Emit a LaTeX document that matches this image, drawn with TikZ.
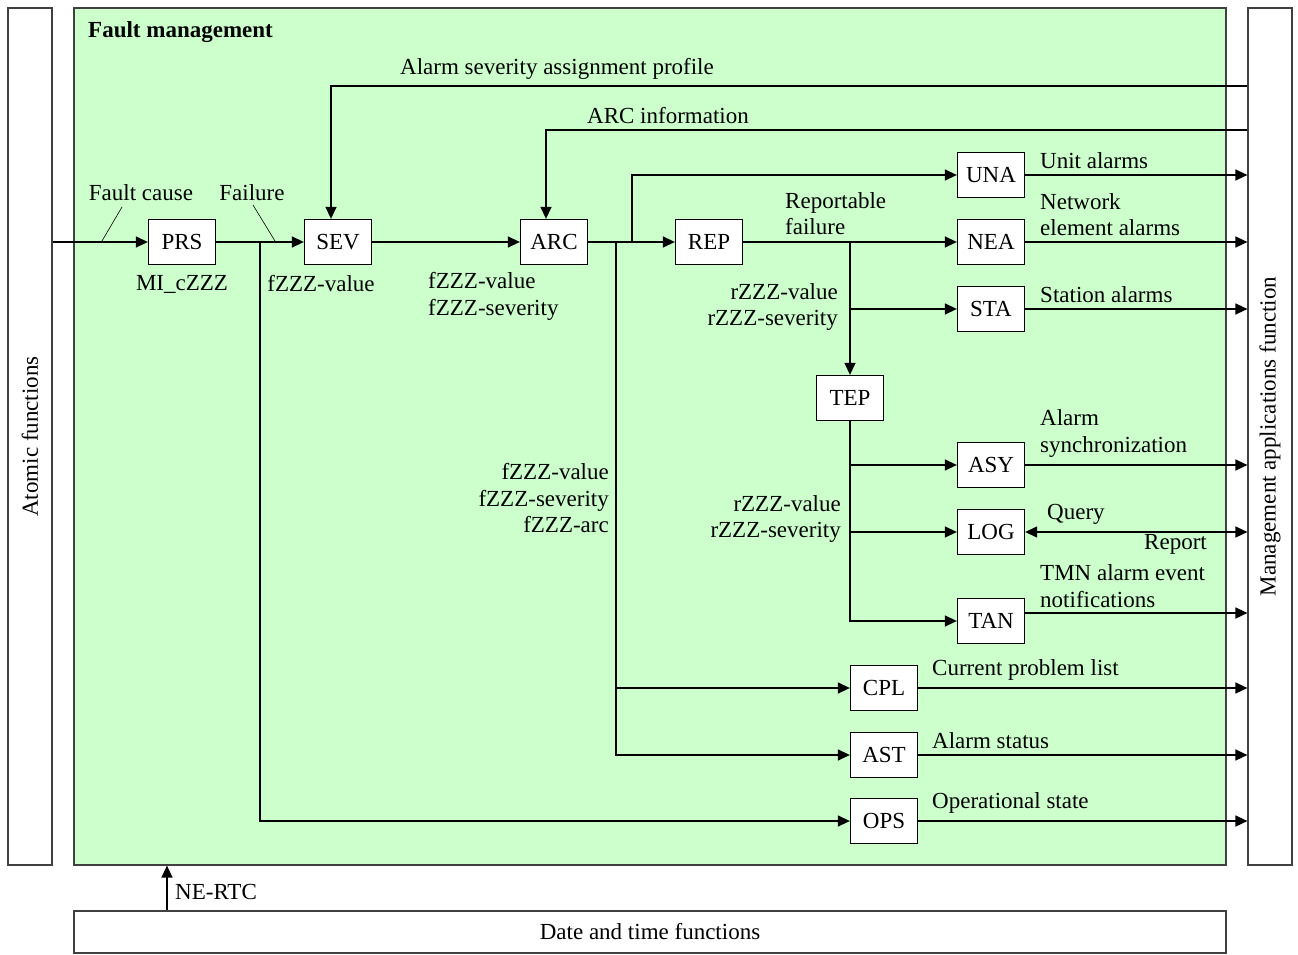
\documentclass[tikz,border=0pt]{standalone}
\usepackage{fontspec}
\setmainfont{Liberation Serif}
\usetikzlibrary{arrows.meta}
\definecolor{fmgreen}{HTML}{CCFFCC}
\definecolor{framegray}{HTML}{404040}
\tikzset{
  panel/.style={draw=framegray, line width=1.2pt, inner sep=0pt},
  fnbox/.style={draw, fill=white, line width=1.3pt, minimum width=67pt, minimum height=45pt, inner sep=0pt},
  lbl/.style={inner sep=0pt},
  arr/.style={line width=1.4pt, -{Triangle[length=12pt,width=11pt]}},
  arrboth/.style={line width=1.4pt, {Triangle[length=12pt,width=11pt]}-{Triangle[length=12pt,width=11pt]}},
  wire/.style={line width=1.4pt}
}
\begin{document}
\begin{tikzpicture}[x=1pt, y=-1pt, font=\fontsize{23}{26.5}\selectfont]
        \useasboundingbox[fill=white] (0,0) rectangle (1298,955);

        % frames
        \node[panel, minimum width=44pt, minimum height=857pt] (atomic) at (30,436.5) {};
        \node[rotate=90] at (atomic) {Atomic functions};
        \node[panel, fill=fmgreen, minimum width=1152pt, minimum height=857pt] (fm) at (650,436.5) {};
        \node[lbl, anchor=west, font=\fontsize{23}{26.5}\selectfont\bfseries] at (88,32) {Fault management};
        \node[panel, minimum width=44pt, minimum height=857pt] (mgmt) at (1270,436.5) {};
        \node[rotate=90] at (mgmt) {Management applications function};
        \node[panel, minimum width=1152pt, minimum height=42pt] (dtf) at (650,932) {Date and time functions};

        % function blocks
        \node[fnbox] (prs) at (182,242) {PRS};
        \node[fnbox] (sev) at (338,242) {SEV};
        \node[fnbox] (arc) at (554,242) {ARC};
        \node[fnbox] (rep) at (709,242) {REP};
        \node[fnbox] (una) at (991,175) {UNA};
        \node[fnbox] (nea) at (991,242) {NEA};
        \node[fnbox] (sta) at (991,309) {STA};
        \node[fnbox] (tep) at (850,398) {TEP};
        \node[fnbox] (asy) at (991,465) {ASY};
        \node[fnbox] (log) at (991,532) {LOG};
        \node[fnbox] (tan) at (991,621) {TAN};
        \node[fnbox] (cpl) at (884,688) {CPL};
        \node[fnbox] (ast) at (884,755) {AST};
        \node[fnbox] (ops) at (884,821) {OPS};

        % branch points
        \coordinate (sevin) at (331,86);
        \coordinate (arcin) at (546,130);
        \coordinate (split1) at (260,242);
        \coordinate (split2) at (632,242);
        \coordinate (split3) at (616,242);
        \coordinate (split4) at (850,242);
        \coordinate (tanout) at (1025,613);
        \coordinate (rtc) at (167,0);

        % main chain
        \draw[arr] (atomic.east |- prs) -- (prs);
        \draw[arr] (prs) -- (sev);
        \draw[arr] (sev) -- (arc);
        \draw[arr] (arc) -- (rep);
        \draw[arr] (rep) -- (nea);
        \draw[arr] (mgmt.west |- sevin) -| (sevin |- sev.north);
        \draw[arr] (mgmt.west |- arcin) -| (arcin |- arc.north);

        % branches
        \draw[arr] (split1) |- (ops);
        \draw[arr] (split2) |- (una);
        \draw[arr] (split3) |- (ast);
        \draw[arr] (split3 |- cpl) -- (cpl);
        \draw[arr] (split4) -- (tep);
        \draw[arr] (split4 |- sta) -- (sta);
        \draw[arr] (tep) |- (tan);
        \draw[arr] (tep.south |- asy) -- (asy);
        \draw[arr] (tep.south |- log) -- (log);

        % outputs
        \foreach \n in {una,nea,sta,asy,cpl,ast,ops}
            \draw[arr] (\n) -- (mgmt.west |- \n);
        \draw[arrboth] (log) -- (mgmt.west |- log);
        \draw[arr] (tanout) -- (mgmt.west |- tanout);
        \draw[arr] (dtf.north -| rtc) -- (fm.south -| rtc);

        % signal marks
        \draw[line width=0.6pt] (102,241) -- (122,207);
        \draw[line width=0.6pt] (275,241) -- (253,205);

        % labels
        \node[lbl] at (557,69) {Alarm severity assignment profile};
        \node[lbl] at (668,116) {ARC information};
        \node[lbl] at (141,193) {Fault cause};
        \node[lbl] at (252,193) {Failure};
        \node[lbl] at (182,284) {MI\_cZZZ};
        \node[lbl] at (321,284) {fZZZ-value};
        \node[lbl, anchor=west, align=left] at (428,296.5) {fZZZ-value\\fZZZ-severity};
        \node[lbl, anchor=west, align=left] at (785,213.5) {Reportable\\failure};
        \node[lbl, anchor=west] at (1040,161) {Unit alarms};
        \node[lbl, anchor=west, align=left] at (1040,214.5) {Network\\element alarms};
        \node[lbl, anchor=east, align=right] at (838,307) {rZZZ-value\\rZZZ-severity};
        \node[lbl, anchor=west] at (1040,295) {Station alarms};
        \node[lbl, anchor=west, align=left] at (1040,433.5) {Alarm\\synchronization};
        \node[lbl, anchor=east, align=right] at (609,498.5) {fZZZ-value\\fZZZ-severity\\fZZZ-arc};
        \node[lbl, anchor=east, align=right] at (841,519) {rZZZ-value\\rZZZ-severity};
        \node[lbl, anchor=west] at (1047,514) {Query};
        \node[lbl, anchor=east] at (1207,544) {Report};
        \node[lbl, anchor=west, align=left] at (1040,586) {TMN alarm event\\notifications};
        \node[lbl, anchor=west] at (932,670) {Current problem list};
        \node[lbl, anchor=west] at (932,741) {Alarm status};
        \node[lbl, anchor=west] at (932,803) {Operational state};
        \node[lbl, anchor=west] at (175,892) {NE-RTC};
    \end{tikzpicture}
\end{document}
